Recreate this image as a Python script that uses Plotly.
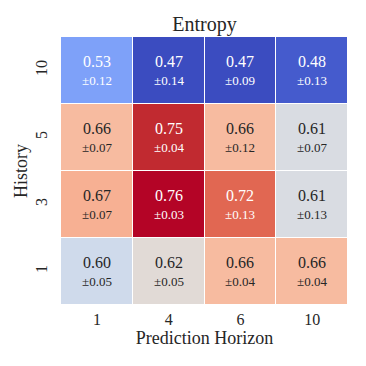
import plotly.graph_objects as go

# data
horizons = ['1', '4', '6', '10']
histories = ['1', '3', '5', '10']  # bottom -> top

mean_h1 = [0.60, 0.62, 0.66, 0.66]
mean_h3 = [0.67, 0.76, 0.72, 0.61]
mean_h5 = [0.66, 0.75, 0.66, 0.61]
mean_h10 = [0.53, 0.47, 0.47, 0.48]

std_h1 = [0.05, 0.05, 0.04, 0.04]
std_h3 = [0.07, 0.03, 0.13, 0.13]
std_h5 = [0.07, 0.04, 0.12, 0.07]
std_h10 = [0.12, 0.14, 0.09, 0.13]

means = [mean_h1, mean_h3, mean_h5, mean_h10]
stds = [std_h1, std_h3, std_h5, std_h10]

# matplotlib coolwarm (Moreland) control points
cw = [(59, 76, 192), (68, 90, 204), (77, 104, 215), (87, 117, 225), (98, 130, 234),
      (108, 142, 241), (119, 154, 247), (130, 165, 251), (141, 176, 254), (152, 185, 255),
      (163, 194, 255), (174, 201, 253), (184, 208, 249), (194, 213, 244), (204, 217, 238),
      (213, 219, 230), (221, 221, 221), (229, 216, 209), (236, 211, 197), (241, 204, 185),
      (245, 196, 173), (247, 187, 160), (247, 177, 148), (247, 166, 135), (244, 154, 123),
      (241, 141, 111), (236, 127, 99), (229, 112, 88), (222, 96, 77), (213, 80, 66),
      (203, 62, 56), (192, 40, 47), (180, 4, 38)]
coolwarm = [[i / (len(cw) - 1), 'rgb(%d,%d,%d)' % c] for i, c in enumerate(cw)]

zmin = min(min(r) for r in means)
zmax = max(max(r) for r in means)

# two-line cell labels: mean on top, std below (white on dark cells)
dark = '#262626'
labels = []
for i in range(len(histories)):
    row = []
    for j in range(len(horizons)):
        m = means[i][j]
        frac = (m - zmin) / (zmax - zmin)
        col = 'white' if (frac < 0.25 or frac > 0.8) else dark
        row.append(f"<span style='fill:{col};font-size:16px'>{m:.2f}</span><br>"
                   f"<span style='fill:{col};font-size:13px'>±{stds[i][j]:.2f}</span>")
    labels.append(row)

serif = "Liberation Serif, Times New Roman, serif"

fig = go.Figure(go.Heatmap(
    x=horizons, y=histories, z=means, text=labels, texttemplate='%{text}',
    textfont=dict(family=serif, size=14, color=dark),
    colorscale=coolwarm, zmin=zmin, zmax=zmax,
    showscale=False, xgap=1, ygap=1, hoverinfo='skip'
))

# page body has an 8px margin, so the figure is 8px smaller than the window
fig.update_layout(
    width=358, height=358,
    margin=dict(l=53, r=18, t=29, b=61),
    paper_bgcolor='white', plot_bgcolor='white',
    font=dict(family=serif, color=dark),
    title=dict(text='Entropy', x=0.5, xanchor='center', xref='paper',
               y=1, yref='paper', yanchor='bottom', pad=dict(b=6),
               font=dict(size=20, color=dark)),
    xaxis=dict(type='category', title=dict(text='Prediction Horizon', font=dict(size=18), standoff=1),
               tickfont=dict(size=16), ticks='', ticklabelstandoff=3, showgrid=False, zeroline=False),
    yaxis=dict(type='category', title=dict(text='History', font=dict(size=18), standoff=0),
               tickfont=dict(size=16), ticks='', tickangle=-90, ticklabelstandoff=10,
               showgrid=False, zeroline=False),
)

fig.write_html("out.html")
